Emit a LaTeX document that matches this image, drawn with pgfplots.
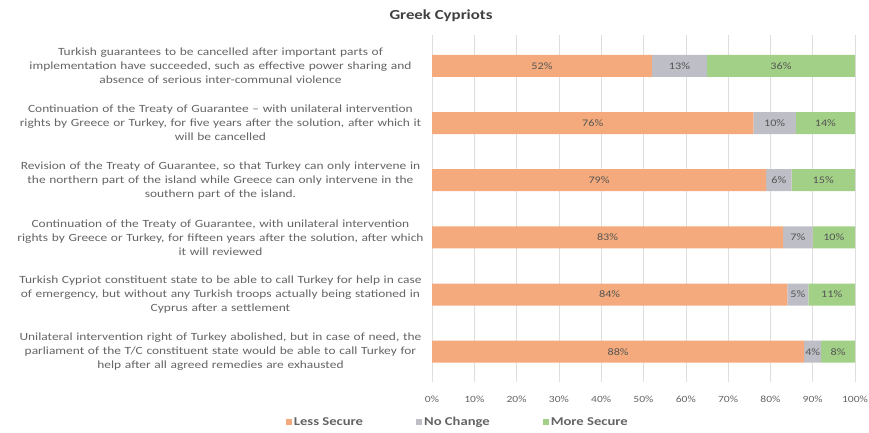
\documentclass[border=0pt]{standalone}
\usepackage{pgfplots}
\pgfplotsset{compat=1.18}
\usepackage{fontspec}
\setmainfont{Carlito}[FakeStretch=1.22]
\definecolor{cless}{RGB}{244,170,124}
\definecolor{cnone}{RGB}{190,190,198}
\definecolor{cmore}{RGB}{162,208,134}
\definecolor{txt}{RGB}{100,100,100}
\begin{document}
\begin{tikzpicture}[x=1pt,y=1pt]
\path[use as bounding box] (0,0) rectangle (869,432);
\node[font=\fontsize{13.8}{15}\selectfont\bfseries, text=black!75] at (441,416) {Greek Cypriots};
\begin{axis}[
  at={(432pt,50pt)}, anchor=south west,
  scale only axis, width=423pt, height=347pt,
  xmin=0, xmax=100, ymin=-0.54, ymax=5.53, y dir=reverse,
  xbar stacked, bar width=22pt,
  axis line style={draw=none}, tick style={draw=none},
  xmajorgrids, major grid style={draw=black!13, line width=0.6pt},
  xtick={0,10,...,100},
  xticklabels={0\%,10\%,20\%,30\%,40\%,50\%,60\%,70\%,80\%,90\%,100\%},
  xticklabel style={font=\fontsize{9.5}{11}\selectfont, text=txt, yshift=-10pt},
  ytick={0,...,5},
  yticklabels={
    {Turkish guarantees to be cancelled after important parts of\\implementation have succeeded, such as effective power sharing and\\absence of serious inter-communal violence},
    {Continuation of the Treaty of Guarantee -- with unilateral intervention\\rights by Greece or Turkey, for five years after the solution, after which it\\will be cancelled},
    {Revision of the Treaty of Guarantee, so that Turkey can only intervene in\\the northern part of the island while Greece can only intervene in the\\southern part of the island.},
    {Continuation of the Treaty of Guarantee, with unilateral intervention\\rights by Greece or Turkey, for fifteen years after the solution, after which\\it will reviewed},
    {Turkish Cypriot constituent state to be able to call Turkey for help in case\\of emergency, but without any Turkish troops actually being stationed in\\Cyprus after a settlement},
    {Unilateral intervention right of Turkey abolished, but in case of need, the\\parliament of the T/C constituent state would be able to call Turkey for\\help after all agreed remedies are exhausted}},
  yticklabel style={text width=414pt, align=center, font=\fontsize{11}{14}\selectfont, text=txt, xshift=-1pt},
  legend style={at={(-0.353,-0.1153)}, anchor=west, draw=none, fill=none, legend columns=3,
    font=\fontsize{12}{13}\selectfont\bfseries, text=txt,
    /tikz/every even column/.append style={column sep=51pt}},
  legend image code/.code={\fill[#1] (0pt,-3pt) rectangle (6pt,3pt);},
  nodes near coords, point meta=explicit symbolic,
  every node near coord/.style={anchor=center, font=\fontsize{10}{12}\selectfont, text=txt!85!black},
]
\addplot[draw=none, fill=cless] coordinates {(52,0)[52\%] (76,1)[76\%] (79,2)[79\%] (83,3)[83\%] (84,4)[84\%] (88,5)[88\%]};
\addplot[draw=none, fill=cnone] coordinates {(13,0)[13\%] (10,1)[10\%] (6,2)[6\%] (7,3)[7\%] (5,4)[5\%] (4,5)[4\%]};
\addplot[draw=none, fill=cmore] coordinates {(35,0)[36\%] (14,1)[14\%] (15,2)[15\%] (10,3)[10\%] (11,4)[11\%] (8,5)[8\%]};
\legend{Less Secure, No Change, More Secure}
\end{axis}
\end{tikzpicture}
\end{document}
